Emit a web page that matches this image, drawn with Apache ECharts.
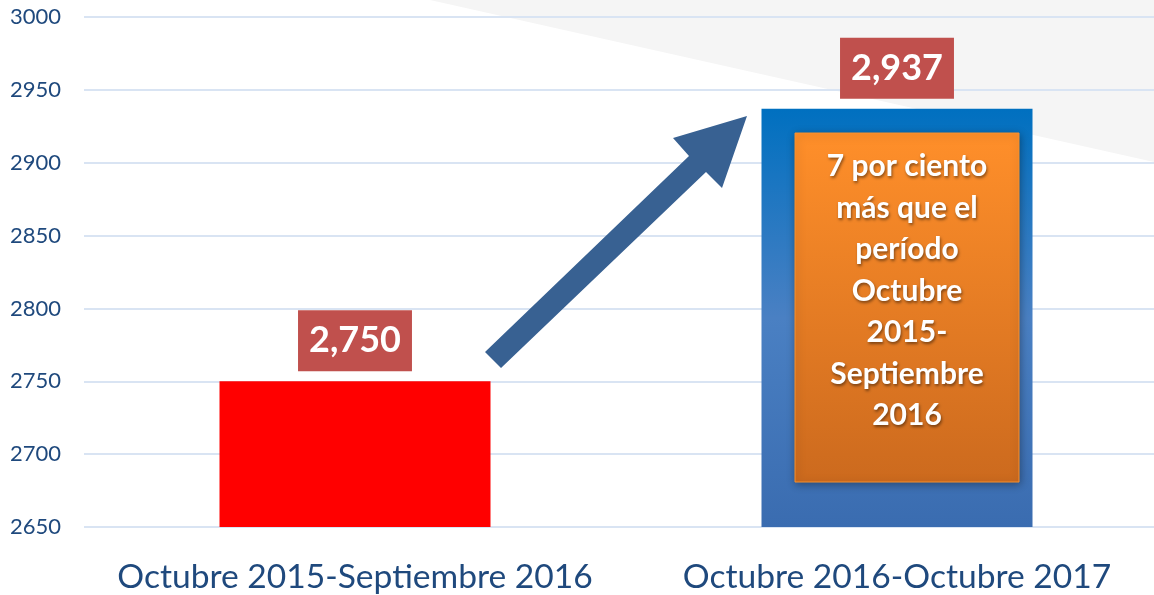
<!DOCTYPE html>
<html>
<head>
<meta charset="utf-8">
<script src="https://cdn.jsdelivr.net/npm/echarts@6/dist/echarts.min.js"></script>
<style>
  html, body { margin: 0; padding: 0; background: #fff; }
  #main { width: 1154px; height: 595px; }
</style>
</head>
<body>
<div id="main"></div>
<script>
var categories = ['Octubre 2015-Septiembre 2016', 'Octubre 2016-Octubre 2017'];
var values = [2750, 2937];
var yMin = 2650, yMax = 3000, yStep = 50;
var noteLines = ['7 por ciento', 'más que el', 'período', 'Octubre', '2015-', 'Septiembre', '2016'];

var chart = echarts.init(document.getElementById('main'));

var blueGrad = new echarts.graphic.LinearGradient(0, 0, 0, 1, [
    { offset: 0, color: '#0070c0' },
    { offset: 0.5, color: '#4a80c3' },
    { offset: 1, color: '#3a6cb0' }
]);

var option = {
    backgroundColor: '#ffffff',
    animation: false,
    grid: { left: 84, width: 1084, top: 17, bottom: 68, outerBoundsMode: 'none' },
    xAxis: {
        type: 'category',
        data: categories,
        axisLine: { show: false },
        axisTick: { show: false },
        axisLabel: {
            interval: 0,
            hideOverlap: false,
            color: '#1f497d',
            fontFamily: 'Lato',
            fontSize: 33.6,
            margin: 33
        }
    },
    yAxis: {
        type: 'value',
        min: yMin,
        max: yMax,
        interval: yStep,
        axisLine: { show: false },
        axisTick: { show: false },
        axisLabel: {
            color: '#1f497d',
            fontFamily: 'Lato',
            fontSize: 22,
            margin: 23,
            formatter: function (v) { return String(v); }
        },
        splitLine: { lineStyle: { color: '#d9e4f3', width: 2 } }
    },
    series: [{
        type: 'bar',
        barWidth: '50%',
        z: 3,
        data: [
            { value: values[0], itemStyle: { color: '#ff0000' } },
            { value: values[1], itemStyle: { color: blueGrad } }
        ],
        label: {
            show: true,
            position: 'top',
            distance: 10,
            color: '#ffffff',
            fontFamily: 'Lato',
            fontWeight: 'bold',
            fontSize: 36,
            lineHeight: 43,
            backgroundColor: '#c0504d',
            padding: [9, 11, 9, 11],
            formatter: function (p) {
                return p.value.toLocaleString('en-US');
            }
        }
    }],
    graphic: [
        {
            type: 'polygon',
            z: -10,
            silent: true,
            shape: { points: [[430, 0], [1154, 0], [1154, 162]] },
            style: { fill: '#f5f5f5' }
        },
        {
            type: 'polygon',
            z: 10,
            silent: true,
            shape: {
                points: [[485, 352], [501, 368], [706, 172], [722, 188],
                         [747, 116], [673, 138], [689, 156]]
            },
            style: { fill: '#386192' }
        },
        {
            type: 'rect',
            z: 10,
            silent: true,
            shape: { x: 795, y: 133, width: 224, height: 349 },
            style: {
                fill: new echarts.graphic.LinearGradient(0, 0, 0, 1, [
                    { offset: 0, color: '#ff8f2a' },
                    { offset: 1, color: '#cc6a1e' }
                ]),
                stroke: '#f7912e',
                lineWidth: 1,
                shadowBlur: 8,
                shadowColor: 'rgba(0,0,0,0.35)',
                shadowOffsetX: 1,
                shadowOffsetY: 2
            }
        },
        {
            type: 'text',
            z: 11,
            silent: true,
            x: 907,
            y: 146,
            style: {
                text: noteLines.join('\n'),
                fill: '#ffffff',
                fontFamily: 'Lato',
                fontWeight: 'bold',
                fontSize: 30,
                lineHeight: 41.5,
                align: 'center',
                verticalAlign: 'top',
                textShadowColor: 'rgba(0,0,0,0.45)',
                textShadowBlur: 3,
                textShadowOffsetX: 1,
                textShadowOffsetY: 2
            }
        }
    ]
};

chart.setOption(option);
</script>
</body>
</html>
